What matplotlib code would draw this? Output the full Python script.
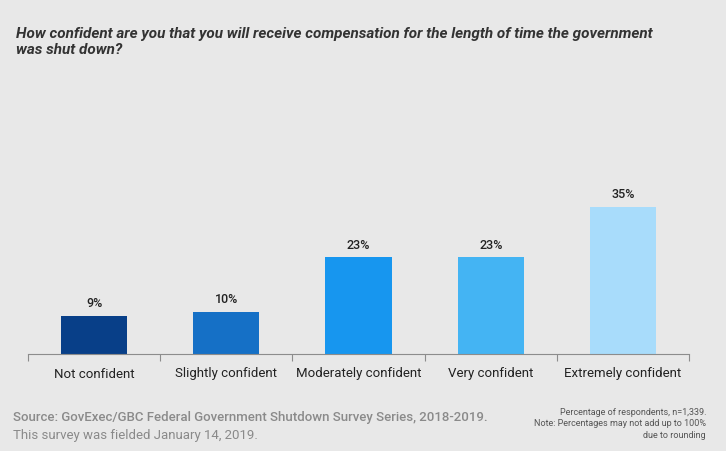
import numpy as np
import matplotlib.pyplot as plt

categories = ["Not confident", "Slightly confident", "Moderately confident",
              "Very confident", "Extremely confident"]
values = [9, 10, 23, 23, 35]
labels = ["9%", "10%", "23%", "23%", "35%"]
colors = ["#083f88", "#1570c6", "#1796ef", "#44b4f3", "#a8dcfb"]

bg = "#e8e8e8"
plt.rcParams['font.family'] = ['Roboto', 'DejaVu Sans']

fig = plt.figure(figsize=(7.26, 4.52), dpi=100, facecolor=bg)
ax = fig.add_axes([28/726, 1-355/452, (689-28)/726, 168/452])
ax.set_facecolor(bg)

x = np.arange(len(categories))
ax.bar(x, values, width=0.5, color=colors)
for xi, v, lab in zip(x, values, labels):
    ax.text(xi, v + 1.6, lab, ha='center', va='bottom', fontsize=9,
            color='#222222', fontweight='medium')

ax.set_xlim(-0.5, len(categories) - 0.5)
ax.set_ylim(0, 40)
for s in ['top', 'right', 'left']:
    ax.spines[s].set_visible(False)
ax.spines['bottom'].set_color('#8c8c8c')
ax.set_yticks([])
ax.set_xticks(np.arange(len(categories) + 1) - 0.5, minor=False)
ax.set_xticklabels([])
ax.tick_params(axis='x', which='major', length=5, color='#8c8c8c', direction='out')
ax.set_xticks(x, minor=True)
ax.set_xticklabels(categories, minor=True, fontsize=9.5, color='#222222')
ax.tick_params(axis='x', which='minor', length=0, pad=9)

fig.text(16/726, 1-42/452, "How confident are you that you will receive compensation for the length of time the government\nwas shut down?",
         fontsize=11, fontweight='bold', fontstyle='italic', color='#333333',
         ha='left', va='center', linespacing=1.2)

fig.text(13/726, 1-418/452, "Source: GovExec/GBC Federal Government Shutdown Survey Series, 2018-2019.",
         fontsize=9.5, fontweight='medium', color='#8a8a8a', ha='left', va='center')
fig.text(13/726, 1-436/452, "This survey was fielded January 14, 2019.",
         fontsize=9.5, color='#8a8a8a', ha='left', va='center')

fig.text(706/726, 1-424/452, "Percentage of respondents, n=1,339.\nNote: Percentages may not add up to 100%\ndue to rounding",
         fontsize=6.5, color='#555555', ha='right', va='center', linespacing=1.3)

fig.savefig("out.png", dpi=100, facecolor=bg)
